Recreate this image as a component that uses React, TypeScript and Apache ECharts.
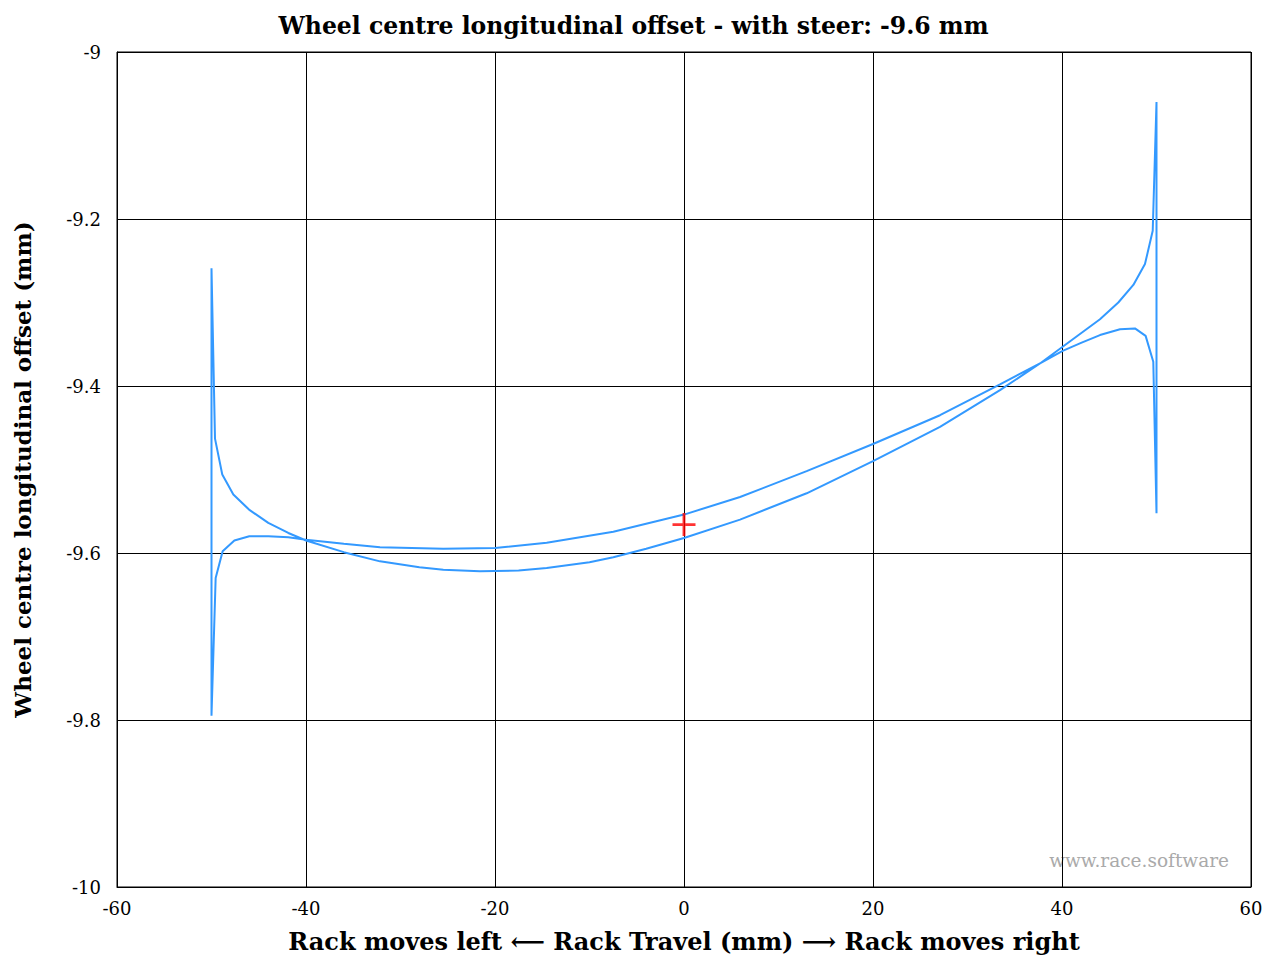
import React, { useEffect, useRef } from "react";
import * as echarts from "echarts";

// Loop of rack travel (mm) vs wheel centre longitudinal offset (mm)
const rackTravel: number[] = [
  -50, -49.63, -48.86, -47.69, -46.03, -43.99, -41.87, -40, -36, -32.17, -28, -25.47, -21.6, -17.5,
  -14.53, -10, -7.48, -4, 0, 5.93, 12.98, 20, 27.09, 33.44, 37.67, 40.07, 44.02, 45.96, 47.55,
  48.78, 49.6, 50,
  50, 49.66, 48.85, 47.72, 46.14, 44.02, 42.08, 40.07, 37.67, 33.44, 27.09, 20, 12.98, 5.93, 0,
  -7.48, -14.53, -20, -25.47, -32.17, -36, -40, -41.87, -43.99, -46, -47.58, -48.82, -49.56, -50,
  -50,
];
const offset: number[] = [
  -9.259, -9.463, -9.506, -9.53, -9.548, -9.564, -9.576, -9.585, -9.599, -9.61, -9.617, -9.62,
  -9.622, -9.621, -9.618, -9.611, -9.605, -9.595, -9.582, -9.56, -9.5285, -9.49, -9.449, -9.405,
  -9.373, -9.353, -9.32, -9.3, -9.279, -9.254, -9.214, -9.06,
  -9.5525, -9.371, -9.34, -9.331, -9.332, -9.339, -9.348, -9.358, -9.373, -9.398, -9.435, -9.4695,
  -9.502, -9.533, -9.554, -9.5745, -9.5876, -9.594, -9.595, -9.593, -9.589, -9.584, -9.581, -9.58,
  -9.58, -9.585, -9.598, -9.63, -9.795,
  -9.259,
];
const markerPoint: [number, number] = [0, -9.566];

const titleText = "Wheel centre longitudinal offset - with steer: -9.6 mm";
const xAxisName = "Rack moves left \u27F5 Rack Travel (mm) \u27F6 Rack moves right";
const yAxisName = "Wheel centre longitudinal offset (mm)";
const watermark = "www.race.software";

const FONT = "'DejaVu Serif', 'Liberation Serif', serif";

export default function App() {
  const ref = useRef<HTMLDivElement>(null);
  useEffect(() => {
    if (!ref.current) return;
    const chart = echarts.init(ref.current, undefined, { renderer: "svg" });
    const data = rackTravel.map((x, i) => [x, offset[i]]);
    chart.setOption({
      animation: false,
      backgroundColor: "#fff",
      title: {
        text: titleText,
        left: "center",
        top: 9,
        textStyle: { fontFamily: FONT, fontSize: 23.5, fontWeight: "bold", color: "#000" },
      },
      grid: {
        left: 117,
        right: 16,
        top: 52,
        bottom: 71,
        show: true,
        borderColor: "#000",
        borderWidth: 1,
      },
      xAxis: {
        type: "value",
        min: -60,
        max: 60,
        interval: 20,
        name: xAxisName,
        nameLocation: "middle",
        nameGap: 42,
        nameTextStyle: { fontFamily: FONT, fontSize: 24, fontWeight: "bold", color: "#000" },
        axisLine: { show: true, onZero: false, lineStyle: { color: "#000", width: 1 } },
        axisTick: { show: false },
        axisLabel: { fontFamily: FONT, fontSize: 18, color: "#000", margin: 12 },
        splitLine: { show: true, lineStyle: { color: "#000", width: 1 } },
      },
      yAxis: {
        type: "value",
        min: -10,
        max: -9,
        interval: 0.2,
        name: yAxisName,
        nameLocation: "middle",
        nameGap: 83,
        nameRotate: 90,
        nameTextStyle: { fontFamily: FONT, fontSize: 23, fontWeight: "bold", color: "#000" },
        axisLine: { show: true, onZero: false, lineStyle: { color: "#000", width: 1 } },
        axisTick: { show: false },
        axisLabel: { fontFamily: FONT, fontSize: 18, color: "#000", margin: 16 },
        splitLine: { show: true, lineStyle: { color: "#000", width: 1 } },
      },
      graphic: [
        {
          type: "text",
          right: 38,
          bottom: 88,
          style: { text: watermark, fontFamily: FONT, fontSize: 18.5, fill: "#aaaaaa" },
        },
      ],
      series: [
        {
          type: "line",
          data,
          showSymbol: false,
          symbol: "none",
          lineStyle: { color: "#3399ff", width: 2 },
          z: 3,
        },
        {
          type: "scatter",
          data: [markerPoint],
          symbol: "path://M10.5,0H13.5V10.5H24V13.5H13.5V24H10.5V13.5H0V10.5H10.5Z",
          symbolSize: 23,
          itemStyle: { color: "#ff0000" },
          z: 4,
        },
      ],
    });
    return () => chart.dispose();
  }, []);
  return (
    <div
      ref={ref}
      style={{ position: "absolute", left: 0, top: 0, width: 1267, height: 958 }}
    />
  );
}
